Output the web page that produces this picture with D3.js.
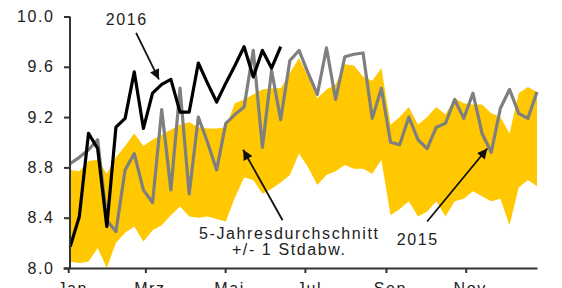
<!DOCTYPE html>
<html lang="de">
  <head>
    <meta charset="utf-8" />
    <title>Wochenwerte 2015 / 2016</title>
    <style>
      body { margin: 0; background: #fff; }
      svg text {
        font-family: "Liberation Sans", Arial, sans-serif;
        font-size: 16px;
        letter-spacing: 1.6px;
        fill: #222;
      }
    </style>
  </head>
  <body>
    <div id="graph-display"></div>

    <script src="https://cdn.jsdelivr.net/npm/d3@7"></script>
    <script>
      // weekly values, week 1..52
      const weeks = d3.range(1, 53);

      // 5-Jahresdurchschnitt +/- 1 Stdabw.
      const bandHigh = [8.78, 8.77, 8.85, 8.86, 8.75, 8.88, 8.97, 9.07, 8.97, 9.02,
                        9.06, 9.10, 9.14, 9.16, 9.12, 9.11, 9.11, 9.12, 9.31, 9.34,
                        9.38, 9.42, 9.43, 9.43, 9.55, 9.67, 9.52, 9.35, 9.42, 9.46,
                        9.62, 9.61, 9.52, 9.49, 9.59, 9.14, 9.20, 9.28, 9.14, 9.20,
                        9.28, 9.22, 9.35, 9.31, 9.30, 9.30, 9.23, 9.20, 9.07, 9.39,
                        9.44, 9.40];
      const bandLow = [8.05, 8.04, 8.05, 8.16, 8.00, 8.20, 8.28, 8.33, 8.21, 8.30,
                       8.34, 8.42, 8.49, 8.41, 8.40, 8.41, 8.39, 8.37, 8.56, 8.72,
                       8.70, 8.59, 8.63, 8.68, 8.74, 8.91, 8.80, 8.66, 8.74, 8.77,
                       8.82, 8.79, 8.79, 8.75, 8.86, 8.42, 8.47, 8.53, 8.41, 8.45,
                       8.53, 8.41, 8.53, 8.55, 8.61, 8.57, 8.53, 8.55, 8.34, 8.64,
                       8.70, 8.65];

      const values2015 = [8.83, 8.88, 8.94, 9.02, 8.38, 8.29, 8.78, 8.91, 8.62, 8.52,
                          9.26, 8.62, 9.43, 8.59, 9.20, 9.00, 8.78, 9.15, 9.22, 9.28,
                          9.73, 8.96, 9.57, 9.18, 9.65, 9.73, 9.55, 9.38, 9.75, 9.34,
                          9.68, 9.70, 9.71, 9.19, 9.43, 9.00, 8.98, 9.20, 9.02, 8.95,
                          9.12, 9.15, 9.34, 9.19, 9.39, 9.07, 8.92, 9.27, 9.42, 9.23,
                          9.19, 9.40];

      const values2016 = [8.17, 8.41, 9.07, 8.95, 8.33, 9.12, 9.19, 9.56, 9.11, 9.39,
                          9.46, 9.50, 9.24, 9.24, 9.63, 9.47, 9.32, 9.47, 9.61, 9.76,
                          9.52, 9.73, 9.59, 9.76];

      const monthStarts = [0, 59, 120, 181, 243, 304];
      const monthLabels = ["Jan", "Mrz", "Mai", "Jul", "Sep", "Nov"];
      const yTicks = [8.0, 8.4, 8.8, 9.2, 9.6, 10.0];

      const width = 562, height = 288;
      const weekDay = (w) => (w - 1) * 7 + 1.5;

      const x = d3.scaleLinear().domain([-4, 358.5]).range([63, 537]);
      const y = d3.scaleLinear().domain([8, 10]).range([268, 16.5]);

      const svg = d3
        .select("#graph-display")
        .append("svg")
        .attr("width", width)
        .attr("height", height);

      svg.append("defs")
        .append("marker")
        .attr("id", "arrow")
        .attr("viewBox", "0 0 10 10")
        .attr("refX", 10)
        .attr("refY", 5)
        .attr("markerUnits", "userSpaceOnUse")
        .attr("markerWidth", 12)
        .attr("markerHeight", 10)
        .attr("orient", "auto")
        .append("path")
        .attr("d", "M0,0L10,5L0,10z")
        .attr("fill", "#111");

      // band
      const area = d3.area()
        .x((d, i) => x(weekDay(weeks[i])))
        .y0((d, i) => y(bandLow[i]))
        .y1((d, i) => y(bandHigh[i]));

      svg.append("path")
        .datum(bandHigh)
        .attr("d", area)
        .attr("fill", "#ffc800");

      const line = d3.line()
        .x((d, i) => x(weekDay(weeks[i])))
        .y((d) => y(d));

      svg.append("path")
        .datum(values2015)
        .attr("d", line)
        .attr("fill", "none")
        .attr("stroke", "#7f7f7f")
        .attr("stroke-width", 3.2)
        .attr("stroke-linejoin", "round");

      svg.append("path")
        .datum(values2016)
        .attr("d", line)
        .attr("fill", "none")
        .attr("stroke", "#000")
        .attr("stroke-width", 3.2)
        .attr("stroke-linejoin", "round");

      // axes
      const yAxis = svg.append("g")
        .attr("transform", `translate(${x(weekDay(1)) - 0.2},0)`)
        .call(d3.axisLeft(y).tickValues(yTicks).tickFormat(d3.format(".1f"))
          .tickSize(6).tickPadding(9.5));

      const xAxis = svg.append("g")
        .attr("transform", `translate(0,${y(8)})`)
        .call(d3.axisBottom(x).tickValues(monthStarts)
          .tickFormat((d, i) => monthLabels[i])
          .tickSize(5).tickSizeOuter(0).tickPadding(10));

      [yAxis, xAxis].forEach((g) => {
        g.selectAll("path, line").attr("stroke", "#333").attr("stroke-width", 2);
        g.selectAll("text").attr("font-size", null).attr("font-family", null).attr("fill", "#222");
      });
      yAxis.select(".domain").attr("d", `M0,${y(8)}V${y(10)}`);
      xAxis.selectAll(".tick text").attr("dx", 4);

      // annotations, in week / value units
      const notes = [
        { lines: ["2016"], w: 7.17, v: 9.93, from: [8.2, 9.87], to: [10.7, 9.50] },
        { lines: ["5-Jahresdurchschnitt", "+/- 1 Stdabw."], w: 24.93, v: 8.23,
          from: [24.2, 8.38], to: [19.9, 8.94] },
        { lines: ["2015"], w: 38.98, v: 8.18, from: [40.0, 8.37], to: [46.57, 8.95] }
      ];

      notes.forEach((n) => {
        const t = svg.append("text")
          .attr("text-anchor", "middle")
          .attr("x", x(weekDay(n.w)))
          .attr("y", y(n.v));
        n.lines.forEach((s, i) => {
          t.append("tspan")
            .attr("x", x(weekDay(n.w)))
            .attr("dy", i === 0 ? 0 : 16)
            .text(s);
        });
        svg.append("line")
          .attr("x1", x(weekDay(n.from[0])))
          .attr("y1", y(n.from[1]))
          .attr("x2", x(weekDay(n.to[0])))
          .attr("y2", y(n.to[1]))
          .attr("stroke", "#111")
          .attr("stroke-width", 1.8)
          .attr("marker-end", "url(#arrow)");
      });
    </script>
  </body>
</html>
